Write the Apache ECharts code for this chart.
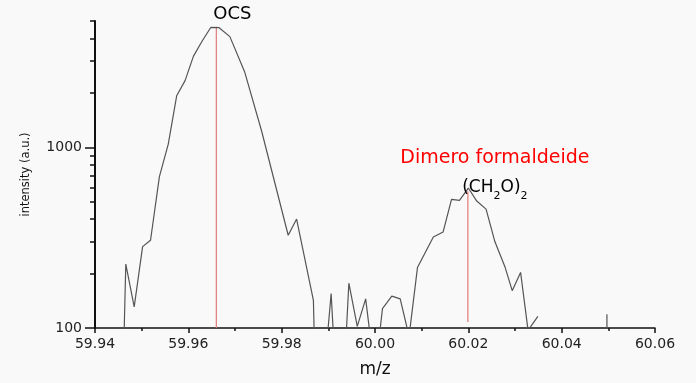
<!DOCTYPE html>
<html>
<head>
<meta charset="utf-8">
<script src="https://cdn.jsdelivr.net/npm/echarts@6/dist/echarts.min.js"></script>
<style>
html,body{margin:0;padding:0;background:#f9f9f9;}
#chart{width:696px;height:383px;}
</style>
</head>
<body>
<div id="chart"></div>
<script>
// m/z sample positions and intensities ('-' = no signal / gap)
var mz = [59.9456, 59.9466, 59.9484, 59.9502, 59.9519, 59.9538, 59.9557, 59.9575, 59.9593, 59.9611,
          59.9629, 59.9648, 59.9666, 59.9689, 59.9721, 59.9757, 59.9814, 59.9832, 59.9868, 59.9876,
          59.9906, 59.9925, 59.9944, 59.9962, 59.9980, 60.0000, 60.0016, 60.0036, 60.0054, 60.0073,
          60.0091, 60.0125, 60.0146, 60.0164, 60.0181, 60.0200, 60.0218, 60.0238, 60.0257, 60.0279,
          60.0294, 60.0312, 60.0328, 60.0349, 60.0360, 60.0496, 60.0497, 60.0498];
var intensity = [20, 226, 131, 282, 306, 688, 1042, 1927, 2340, 3195,
                 3850, 4605, 4590, 4097, 2599, 1231, 326, 401, 142, 20,
                 155, 20, 177, 102, 145, 55, 128, 150, 145, 90,
                 216, 319, 340, 515, 509, 595, 504, 455, 300, 216,
                 161, 203, 97, 116, '-', 10, 119, 10];

// annotation lines
var ocsX = 59.966, ocsRange = [100, 4640];
var dimerX = 60.0199, dimerRange = [108, 571];

var xTicks = [59.94, 59.96, 59.98, 60.00, 60.02, 60.04, 60.06];
var xMinor = [59.95, 59.97, 59.99, 60.01, 60.03, 60.05];
var yLabels = [100, 1000];
var yMinor = [200, 300, 400, 500, 600, 700, 800, 900, 2000, 3000, 4000, 5000];

var FONT = 'DejaVu Sans';
var chart = echarts.init(document.getElementById('chart'), null, {renderer: 'canvas'});

var seriesData = mz.map(function (x, i) { return [x, intensity[i]]; });

chart.setOption({
  backgroundColor: '#f9f9f9',
  animation: false,
  grid: {left: 95, right: 41, top: 21, bottom: 48},
  xAxis: [{
    type: 'value', min: 59.94, max: 60.06, interval: 0.02,
    name: 'm/z', nameLocation: 'middle', nameGap: 33,
    nameTextStyle: {fontFamily: FONT, fontSize: 17, color: '#111'},
    axisLine: {lineStyle: {color: '#111', width: 1.5}},
    axisTick: {customValues: xTicks, length: 5, lineStyle: {color: '#111', width: 1.5}},
    axisLabel: {customValues: xTicks, margin: 9, fontFamily: FONT, fontSize: 14, color: '#222',
      formatter: function (v) { return v.toFixed(2); }},
    splitLine: {show: false}
  }, {
    type: 'value', min: 59.94, max: 60.06, position: 'bottom',
    axisLine: {show: false},
    axisTick: {customValues: xMinor, length: 3, lineStyle: {color: '#111', width: 1.5}},
    axisLabel: {show: false},
    splitLine: {show: false}
  }],
  yAxis: [{
    type: 'log', logBase: 10, min: 100, max: 5000, position: 'left',
    name: 'intensity (a.u.)', nameLocation: 'middle', nameGap: 63, nameRotate: 90,
    nameTextStyle: {fontFamily: FONT, fontSize: 11.5, color: '#111'},
    axisLine: {show: true, lineStyle: {color: '#111', width: 2}},
    axisTick: {show: true, customValues: yLabels, length: 10, lineStyle: {color: '#111', width: 1.5}},
    axisLabel: {customValues: yLabels, margin: 13, fontFamily: FONT, fontSize: 14, color: '#222',
      formatter: function (v) { return String(Math.round(v)); }},
    splitLine: {show: false}
  }, {
    type: 'log', logBase: 10, min: 100, max: 5000, position: 'left',
    axisLine: {show: false},
    axisTick: {show: true, customValues: yMinor, length: 5, lineStyle: {color: '#111', width: 1.5}},
    axisLabel: {show: false},
    splitLine: {show: false}
  }],
  series: [{
    type: 'line', data: seriesData, showSymbol: false, symbol: 'none',
    lineStyle: {color: '#555', width: 1.2}, clip: true, connectNulls: false, z: 3
  }, {
    type: 'line', symbol: 'none', showSymbol: false,
    data: [[ocsX, ocsRange[0]], [ocsX, ocsRange[1]]],
    lineStyle: {color: '#e07a7a', width: 1.2}, z: 2
  }, {
    type: 'line', symbol: 'none', showSymbol: false,
    data: [[dimerX, dimerRange[0]], [dimerX, dimerRange[1]]],
    lineStyle: {color: '#e07a7a', width: 1.2}, z: 2
  }, {
    type: 'scatter', symbolSize: 0, z: 4, clip: false,
    itemStyle: {opacity: 1},
    data: [{
      value: [ocsX, ocsRange[1]],
      label: {show: true, position: 'top', distance: 4, offset: [16, 0],
        formatter: 'OCS', fontFamily: FONT, fontSize: 18, color: '#000'}
    }, {
      value: [dimerX, dimerRange[1]],
      label: {show: true, position: 'top', distance: 0, offset: [27, 10], align: 'center',
        formatter: '{r|Dimero formaldeide}\n{n|(CH}{s|2}{n|O)}{s|2}',
        rich: {
          r: {fontFamily: FONT, fontSize: 19, color: '#ff0000', lineHeight: 30},
          n: {fontFamily: FONT, fontSize: 17, color: '#000', lineHeight: 28},
          s: {fontFamily: FONT, fontSize: 11, color: '#000', lineHeight: 16, verticalAlign: 'bottom'}
        }}
    }]
  }]
});
</script>
</body>
</html>
